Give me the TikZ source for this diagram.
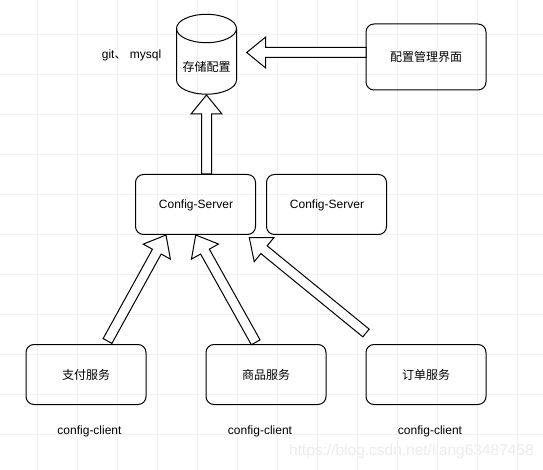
\documentclass[tikz,border=0pt]{standalone}
\usepackage{fontspec}
\setmainfont{Liberation Sans}
\newfontfamily\cjk{Noto Sans CJK SC}
\usepackage{tikz}
\usetikzlibrary{calc}
\definecolor{gridgray}{HTML}{F2F2F2}
\definecolor{markgray}{HTML}{ECECEC}
\tikzset{
  box/.style={draw,line width=1pt,rounded corners=8pt,minimum width=120pt,minimum height=60pt,inner sep=0pt,font=\fontsize{12}{14}\selectfont},
  txt/.style={inner sep=0pt,font=\fontsize{12}{14}\selectfont},
  blockline/.style={draw,line width=1pt,fill=white,line join=miter},
  gridline/.style={gridgray,line width=0.8pt}
}
\newcommand{\blockarrow}[2]{
  \coordinate (neck) at ($(#2)!19pt!(#1)$);
  \draw[blockline] ($(#1)!5pt!90:(#2)$) -- ($(neck)!5pt!90:(#2)$) -- ($(neck)!15.5pt!90:(#2)$) -- (#2)
    -- ($(neck)!15.5pt!-90:(#2)$) -- ($(neck)!5pt!-90:(#2)$) -- ($(#1)!5pt!-90:(#2)$) -- cycle;
}

\begin{document}
\begin{tikzpicture}[x=1pt,y=-1pt]
  \useasboundingbox (0,0) rectangle (543,470);
  \fill[white] (0,0) rectangle (543,470);
  \foreach \gx in {37,77,...,517} {\draw[gridline] (\gx,0) -- (\gx,470);}
  \foreach \gy in {34,74,...,434} {\draw[gridline] (0,\gy) -- (543,\gy);}
  \node[txt,text=markgray,font=\fontsize{15.5}{18}\selectfont,anchor=east] (mark) at (534,451) {https://blog.csdn.net/liang63487458};

  \draw[line width=1pt] (176.5,28.5) arc[start angle=180,end angle=0,x radius=30pt,y radius=14.2pt]
    -- (236.5,80) arc[start angle=0,end angle=-180,x radius=30pt,y radius=14.2pt] -- cycle;
  \draw[line width=1pt] (176.5,28.5) arc[start angle=180,end angle=360,x radius=30pt,y radius=14.2pt];
  \node[txt] (storetext) at (206.5,66.5) {\cjk 存储配置};
  \node[txt] (storekind) at (131.5,55) {git{\cjk 、} mysql};
  \node[box] (admin) at (426,57) [minimum height=66pt] {\cjk 配置管理界面};
  \node[box] (serverA) at (195.5,204.5) {\hspace{1pt}\raisebox{-4.2pt}[0pt][0pt]{Config-Server}};
  \node[box] (serverB) at (326.5,204.5) {\hspace{1pt}\raisebox{-4.2pt}[0pt][0pt]{Config-Server}};
  \node[box] (pay) at (86,374.5) {\cjk 支付服务};
  \node[box] (goods) at (266,374.5) {\cjk 商品服务};
  \node[box] (order) at (426,374.5) {\cjk 订单服务};
  \node[txt] (clientA) at (89.5,431) {config-client};
  \node[txt] (clientB) at (260,431) {config-client};
  \node[txt] (clientC) at (430,431) {config-client};

  \coordinate (upTail) at (206.5,174);
  \coordinate (upTip) at (206.5,95);
  \coordinate (leftTail) at (366,52.5);
  \coordinate (leftTip) at (246.7,52.5);
  \coordinate (payTail) at (107.5,341);
  \coordinate (payTip) at (166,235);
  \coordinate (goodsTail) at (255.7,342.3);
  \coordinate (goodsTip) at (195.7,235);
  \coordinate (orderTail) at (366,333);
  \coordinate (orderTip) at (249.3,237.7);
  \blockarrow{upTail}{upTip}
  \blockarrow{leftTail}{leftTip}
  \blockarrow{payTail}{payTip}
  \blockarrow{goodsTail}{goodsTip}
  \blockarrow{orderTail}{orderTip}
\end{tikzpicture}
\end{document}
